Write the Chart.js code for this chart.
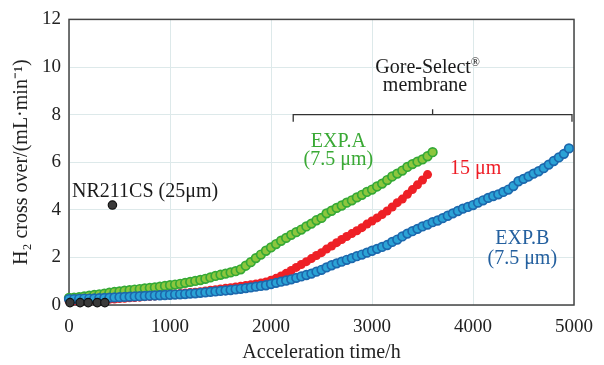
<!DOCTYPE html>
<html>
<head>
<meta charset="utf-8">
<script src="https://cdn.jsdelivr.net/npm/chart.js@4"></script>
<style>
  html, body { margin: 0; padding: 0; background: #fff; }
  #wrap { width: 604px; height: 365px; }
</style>
</head>
<body>
<div id="wrap"><canvas id="crossChart"></canvas></div>
<script>
// acceleration time (h) shared by all Gore-Select series
const hours = [
  0, 50, 100, 150, 200, 250, 300, 350, 400, 450,
  500, 550, 600, 650, 700, 750, 800, 850, 900, 950,
  1000, 1050, 1100, 1150, 1200, 1250, 1300, 1350, 1400, 1450,
  1500, 1550, 1600, 1650, 1700, 1750, 1800, 1850, 1900, 1950,
  2000, 2050, 2100, 2150, 2200, 2250, 2300, 2350, 2400, 2450,
  2500, 2550, 2600, 2650, 2700, 2750, 2800, 2850, 2900, 2950,
  3000, 3050, 3100, 3150, 3200, 3250, 3300, 3350, 3400, 3450,
  3500, 3550, 3600, 3650, 3700, 3750, 3800, 3850, 3900, 3950,
  4000, 4050, 4100, 4150, 4200, 4250, 4300, 4350, 4400, 4450,
  4500, 4550, 4600, 4650, 4700, 4750, 4800, 4850, 4900, 4950
];

// EXP.A (7.5 um)
const expA = [
  0.30, 0.31, 0.33, 0.36, 0.39, 0.42, 0.45, 0.48, 0.52, 0.55,
  0.57, 0.60, 0.62, 0.65, 0.67, 0.70, 0.72, 0.74, 0.77, 0.80,
  0.83, 0.86, 0.89, 0.93, 0.97, 1.01, 1.05, 1.10, 1.16, 1.22,
  1.27, 1.32, 1.37, 1.42, 1.50, 1.65, 1.80, 1.97, 2.12, 2.28,
  2.42, 2.56, 2.70, 2.82, 2.95, 3.06, 3.17, 3.30, 3.42, 3.56,
  3.66, 3.85, 3.96, 4.08, 4.18, 4.30, 4.40, 4.52, 4.63, 4.75,
  4.85, 4.98, 5.10, 5.25, 5.40, 5.52, 5.65, 5.80, 5.92, 6.02,
  6.12, 6.25, 6.42
];

// 15 um
const mem15 = [
  0.18, 0.18, 0.19, 0.19, 0.20, 0.21, 0.22, 0.23, 0.24, 0.25,
  0.27, 0.28, 0.30, 0.31, 0.33, 0.35, 0.36, 0.38, 0.40, 0.42,
  0.44, 0.46, 0.48, 0.50, 0.52, 0.54, 0.56, 0.59, 0.62, 0.64,
  0.67, 0.70, 0.73, 0.76, 0.79, 0.82, 0.85, 0.88, 0.92, 0.97,
  1.04, 1.12, 1.22, 1.33, 1.45, 1.58, 1.70, 1.82, 1.95, 2.08,
  2.20, 2.35, 2.48, 2.62, 2.75, 2.88, 3.00, 3.12, 3.25, 3.40,
  3.53, 3.66, 3.80, 3.95, 4.12, 4.30, 4.45, 4.65, 4.85, 5.05,
  5.25, 5.48
];

// EXP.B (7.5 um)
const expB = [
  0.25, 0.25, 0.26, 0.27, 0.27, 0.28, 0.29, 0.30, 0.31, 0.32,
  0.33, 0.34, 0.35, 0.36, 0.37, 0.38, 0.39, 0.40, 0.41, 0.42,
  0.43, 0.44, 0.45, 0.46, 0.48, 0.49, 0.51, 0.53, 0.55, 0.57,
  0.59, 0.61, 0.63, 0.66, 0.68, 0.71, 0.74, 0.77, 0.80, 0.83,
  0.88, 0.93, 0.98, 1.03, 1.08, 1.14, 1.20, 1.26, 1.32, 1.40,
  1.48, 1.58, 1.67, 1.75, 1.82, 1.90, 1.97, 2.05, 2.12, 2.20,
  2.28, 2.36, 2.44, 2.52, 2.65, 2.75, 2.88, 3.00, 3.10, 3.20,
  3.30, 3.38, 3.48, 3.55, 3.65, 3.75, 3.85, 3.95, 4.05, 4.12,
  4.20, 4.30, 4.40, 4.50, 4.58, 4.65, 4.75, 4.85, 5.00, 5.20,
  5.30, 5.40, 5.52, 5.62, 5.75, 5.90, 6.05, 6.20, 6.35, 6.58
];

// NR211CS (25 um)
const nrHours = [10, 110, 190, 280, 355, 430];
const nrValues = [0.10, 0.10, 0.10, 0.10, 0.10, 4.20];

const xTicks = [0, 1000, 2000, 3000, 4000, 5000];
const yTicks = [0, 2, 4, 6, 8, 10, 12];

const serif = '"Liberation Serif", "Times New Roman", serif';

function toPoints(xs, ys) {
  return ys.map((v, i) => ({ x: xs[i], y: v }));
}

// notes, bracket and frame
const notesPlugin = {
  id: 'notes',
  beforeDatasetsDraw(chart) {
    const { ctx, chartArea } = chart;
    ctx.save();
    ctx.strokeStyle = '#444';
    ctx.lineWidth = 1.5;
    ctx.strokeRect(chartArea.left, chartArea.top, chartArea.right - chartArea.left, chartArea.bottom - chartArea.top);
    ctx.restore();
  },
  afterDraw(chart) {
    const { ctx } = chart;
    const xs = chart.scales.x, ys = chart.scales.y;
    const px = v => xs.getPixelForValue(v);
    const py = v => ys.getPixelForValue(v);

    ctx.save();
    ctx.textBaseline = 'middle';
    ctx.font = '20px ' + serif;

    function label(text, x, y, color, align) {
      ctx.fillStyle = color;
      ctx.textAlign = align || 'center';
      ctx.fillText(text, px(x), py(y));
    }

    label('NR211CS (25μm)', 30, 4.77, '#1a1a1a', 'left');
    label('EXP.A', 2667, 6.85, '#3aa935');
    label('(7.5 μm)', 2667, 6.1, '#3aa935');
    label('15 μm', 4026, 5.73, '#ee1c25');
    label('EXP.B', 4488, 2.78, '#24609f');
    label('(7.5 μm)', 4488, 1.95, '#24609f');

    // Gore-Select(R) membrane
    ctx.fillStyle = '#1a1a1a';
    ctx.textAlign = 'center';
    const gx = px(3555), gy = py(9.96);
    const w1 = ctx.measureText('Gore-Select').width;
    ctx.fillText('Gore-Select', gx - 5, gy);
    ctx.font = '12px ' + serif;
    ctx.textAlign = 'left';
    ctx.fillText('®', gx - 5 + w1 / 2, gy - 5);
    ctx.font = '20px ' + serif;
    ctx.textAlign = 'center';
    ctx.fillText('membrane', px(3525), py(9.21));

    // bracket
    ctx.strokeStyle = '#333';
    ctx.lineWidth = 1.3;
    ctx.beginPath();
    ctx.moveTo(px(2220), py(7.7));
    ctx.lineTo(px(2220), py(8));
    ctx.lineTo(px(4980), py(8));
    ctx.lineTo(px(4980), py(7.7));
    ctx.moveTo(px(3600), py(8));
    ctx.lineTo(px(3600), py(8.22));
    ctx.stroke();
    ctx.restore();
  }
};

const crossCanvas = document.getElementById('crossChart');
new Chart(crossCanvas.getContext('2d'), {
  type: 'scatter',
  data: {
    datasets: [
      {
        label: 'NR211CS (25μm)',
        data: toPoints(nrHours, nrValues),
        backgroundColor: '#3a3a3a',
        borderColor: '#111',
        borderWidth: 1.2,
        pointRadius: 4.2,
        clip: 6
      },
      {
        label: 'EXP.B (7.5 μm)',
        data: toPoints(hours, expB),
        backgroundColor: '#2ba3d6',
        borderColor: '#1c68ad',
        borderWidth: 1.7,
        pointRadius: 4.3,
        clip: 6
      },
      {
        label: 'EXP.A (7.5 μm)',
        data: toPoints(hours, expA),
        backgroundColor: '#8cc63e',
        borderColor: '#35a935',
        borderWidth: 1.7,
        pointRadius: 4.3,
        clip: 6
      },
      {
        label: '15 μm',
        data: toPoints(hours, mem15),
        backgroundColor: '#ee2026',
        borderColor: '#ee2026',
        pointRadius: 4.5,
        pointBorderWidth: 0,
        showLine: true,
        borderWidth: 5,
        clip: 6
      }
    ]
  },
  options: {
    responsive: true,
    maintainAspectRatio: false,
    animation: false,
    layout: { padding: { left: 0, right: 27, top: 16, bottom: 0 } },
    plugins: {
      legend: { display: false },
      tooltip: { enabled: false }
    },
    scales: {
      x: {
        type: 'linear',
        min: 0,
        max: 5000,
        afterFit: s => { s.height = 60; },
        afterBuildTicks: s => { s.ticks = xTicks.map(v => ({ value: v })); },
        grid: { color: '#dde9ea', lineWidth: 1, drawTicks: false },
        border: { display: false },
        ticks: {
          color: '#222',
          font: { family: serif, size: 19 },
          padding: 11,
          maxRotation: 0,
          callback: v => String(v)
        },
        title: {
          display: true,
          text: 'Acceleration time/h',
          color: '#222',
          font: { family: serif, size: 20 },
          padding: { top: 0, bottom: 0 }
        }
      },
      y: {
        min: 0,
        max: 12,
        afterFit: s => { s.width = 69; },
        afterBuildTicks: s => { s.ticks = yTicks.map(v => ({ value: v })); },
        grid: { color: '#dde9ea', lineWidth: 1, drawTicks: false },
        border: { display: false },
        ticks: {
          color: '#222',
          font: { family: serif, size: 19 },
          padding: 8,
          callback: v => String(v)
        },
        title: {
          display: true,
          text: 'H₂ cross over/(mL·min⁻¹)',
          color: '#222',
          font: { family: serif, size: 20 },
          padding: { top: 10, bottom: 0 }
        }
      }
    }
  },
  plugins: [notesPlugin]
});
</script>
</body>
</html>
